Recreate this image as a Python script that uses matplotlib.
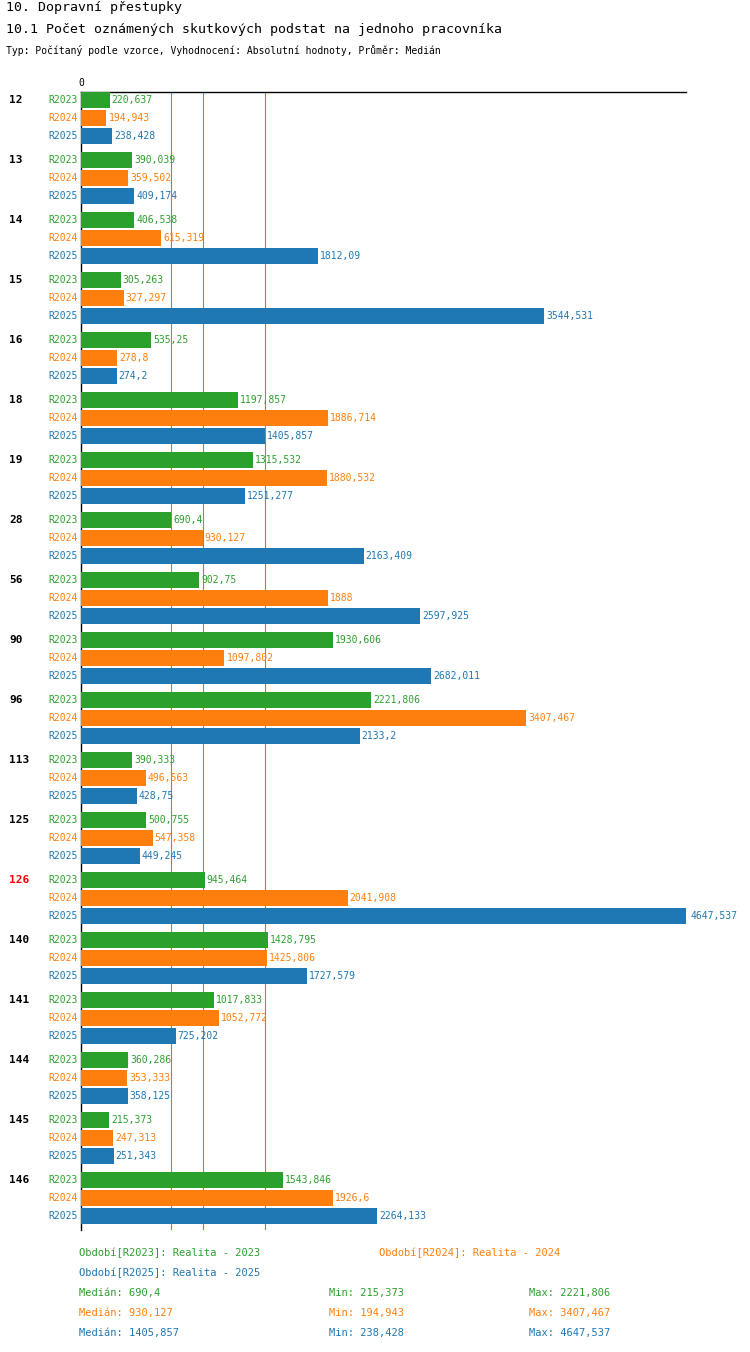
import matplotlib.pyplot as plt
from matplotlib.transforms import blended_transform_factory, offset_copy

plt.rcParams["font.family"] = ["DejaVu Sans Mono"]

groups = ["12", "13", "14", "15", "16", "18", "19", "28", "56", "90", "96",
          "113", "125", "126", "140", "141", "144", "145", "146"]
r2023 = [220.637, 390.039, 406.538, 305.263, 535.25, 1197.857, 1315.532, 690.4,
         902.75, 1930.606, 2221.806, 390.333, 500.755, 945.464, 1428.795,
         1017.833, 360.286, 215.373, 1543.846]
r2024 = [194.943, 359.502, 615.319, 327.297, 278.8, 1886.714, 1880.532, 930.127,
         1888, 1097.802, 3407.467, 496.563, 547.358, 2041.908, 1425.806,
         1052.772, 353.333, 247.313, 1926.6]
r2025 = [238.428, 409.174, 1812.09, 3544.531, 274.2, 1405.857, 1251.277, 2163.409,
         2597.925, 2682.011, 2133.2, 428.75, 449.245, 4647.537, 1727.579,
         725.202, 358.125, 251.343, 2264.133]
series = [("R2023", r2023, "#2ca02c"), ("R2024", r2024, "#ff7f0e"), ("R2025", r2025, "#1f77b4")]
medians = [690.4, 930.127, 1405.857]
highlight = "126"


def fmt(v):
    return str(v).replace(".", ",")


W, H = 750, 1352
fig = plt.figure(figsize=(W / 100, H / 100), dpi=100)
top, bottom = 92, 1230
ax = fig.add_axes([81 / W, 1 - bottom / H, (686 - 81) / W, (bottom - top) / H])
ax.set_xlim(0, 4630)
ax.set_ylim(bottom - top, 0)
ax.axis("off")
ax.plot([0, 1], [1, 1], transform=ax.transAxes, color="black", lw=1, clip_on=False)
ax.plot([0, 0], [0, 1], transform=ax.transAxes, color="black", lw=1, clip_on=False)
ax.text(0, -4, "0", fontsize=7, ha="center", va="bottom")

for m in medians:
    ax.axvline(m, color="#e07000", lw=0.8, zorder=0)

fig_x = blended_transform_factory(fig.transFigure, ax.transData)
lab_tr = offset_copy(ax.transData, fig=fig, x=-2, y=0, units="points")
for gi, g in enumerate(groups):
    base = gi * 60 + 8
    ax.text(9 / W, base, g, fontsize=8, fontweight="bold", va="center",
            transform=fig_x, color="red" if g == highlight else "black")
    for si, (name, vals, col) in enumerate(series):
        y = base + si * 18
        ax.barh(y, vals[gi], height=16, color=col, zorder=2)
        ax.text(0, y, name, fontsize=7, color=col, ha="right", va="center", transform=lab_tr)
        ax.text(vals[gi] + 15, y, fmt(vals[gi]), fontsize=7, color=col, va="center")

fig.text(6 / W, 1 - 8 / H, "10. Dopravní přestupky", fontsize=9.5, va="center")
fig.text(6 / W, 1 - 30 / H, "10.1 Počet oznámených skutkových podstat na jednoho pracovníka",
         fontsize=9.5, va="center")
fig.text(6 / W, 1 - 50 / H, "Typ: Počítaný podle vzorce, Vyhodnocení: Absolutní hodnoty, Průměr: Medián",
         fontsize=7, va="center")

fs = 7.5
fig.text(79 / W, 1 - 1253 / H, "Období[R2023]: Realita - 2023", color=series[0][2], fontsize=fs, va="center")
fig.text(379 / W, 1 - 1253 / H, "Období[R2024]: Realita - 2024", color=series[1][2], fontsize=fs, va="center")
fig.text(79 / W, 1 - 1273 / H, "Období[R2025]: Realita - 2025", color=series[2][2], fontsize=fs, va="center")
for si, (name, vals, col) in enumerate(series):
    y = 1 - (1293 + si * 20) / H
    fig.text(79 / W, y, f"Medián: {fmt(medians[si])}", color=col, fontsize=fs, va="center")
    fig.text(329 / W, y, f"Min: {fmt(min(vals))}", color=col, fontsize=fs, va="center")
    fig.text(529 / W, y, f"Max: {fmt(max(vals))}", color=col, fontsize=fs, va="center")

fig.savefig("out.png", dpi=100)
